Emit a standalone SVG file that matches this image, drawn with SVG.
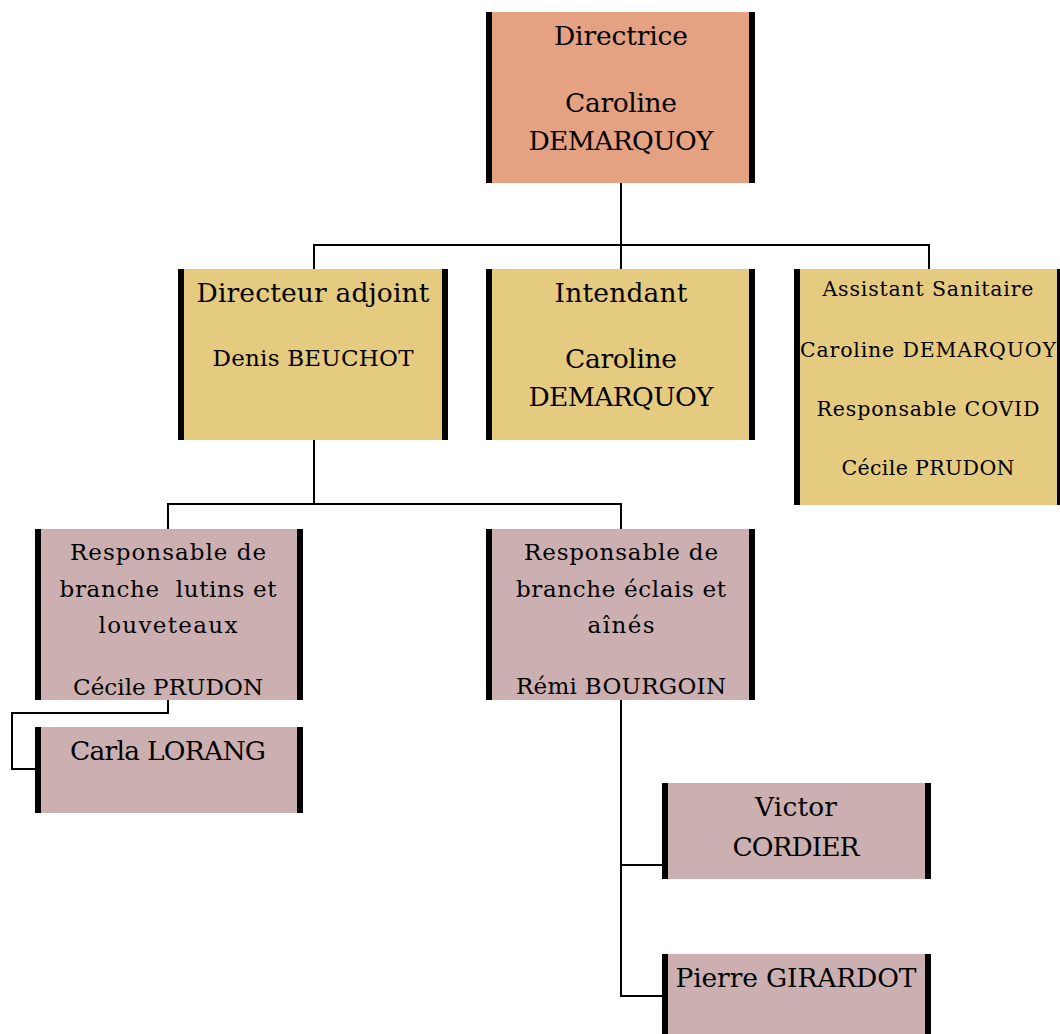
<svg xmlns="http://www.w3.org/2000/svg" width="1060" height="1034" viewBox="0 0 1060 1034">
<style>
.t{font-family:"DejaVu Serif","Liberation Serif",serif;fill:#000;text-anchor:middle}
.f30{font-size:26.5px}.f26{font-size:23px}.f23{font-size:20.5px}
.bar{fill:#000}
.c{fill:none;stroke:#000;stroke-width:2}
.o{fill:#E5A282}.y{fill:#E5CB80}.p{fill:#CCB0B1}
</style>
<rect width="1060" height="1034" fill="#fff"/>
<g id="connectors">
<path class="c" d="M621 183V245M314 269V245H929V269M621 245V269"/>
<path class="c" d="M314 440V504M168 529V504H621V529"/>
<path class="c" d="M168 700V713H12V769H35"/>
<path class="c" d="M621 700V996H662M621 865H662"/>
</g>
<g id="n-directrice">
<rect class="o" x="486" y="12" width="269" height="171"/>
<rect class="bar" x="486" y="12" width="6" height="171"/><rect class="bar" x="749" y="12" width="6" height="171"/>
<text class="t f30" x="621" y="45" textLength="134">Directrice</text>
<text class="t f30" x="621" y="112" textLength="112">Caroline</text>
<text class="t f30" x="621" y="150" textLength="185">DEMARQUOY</text>
</g>
<g id="n-adjoint">
<rect class="y" x="178" y="269" width="270" height="171"/>
<rect class="bar" x="178" y="269" width="6" height="171"/><rect class="bar" x="442" y="269" width="6" height="171"/>
<text class="t f30" x="313" y="302" textLength="233">Directeur adjoint</text>
<text class="t f26" x="313" y="366" textLength="201">Denis BEUCHOT</text>
</g>
<g id="n-intendant">
<rect class="y" x="486" y="269" width="269" height="171"/>
<rect class="bar" x="486" y="269" width="6" height="171"/><rect class="bar" x="749" y="269" width="6" height="171"/>
<text class="t f30" x="621" y="302" textLength="133">Intendant</text>
<text class="t f30" x="621" y="368" textLength="112">Caroline</text>
<text class="t f30" x="621" y="406" textLength="185">DEMARQUOY</text>
</g>
<g id="n-sanitaire">
<rect class="y" x="794" y="269" width="266" height="236"/>
<rect class="bar" x="794" y="269" width="6" height="236"/><rect class="bar" x="1057" y="269" width="3" height="236"/>
<text class="t f23" x="928" y="296" textLength="211">Assistant Sanitaire</text>
<text class="t f23" x="928" y="357" textLength="256">Caroline DEMARQUOY</text>
<text class="t f23" x="928" y="416" textLength="223">Responsable COVID</text>
<text class="t f23" x="928" y="475" textLength="173">Cécile PRUDON</text>
</g>
<g id="n-lutins">
<rect class="p" x="35" y="529" width="268" height="171"/>
<rect class="bar" x="35" y="529" width="6" height="171"/><rect class="bar" x="297" y="529" width="6" height="171"/>
<text class="t f26" x="168" y="560" textLength="196">Responsable de</text>
<text class="t f26" x="168" y="597" textLength="217" xml:space="preserve">branche  lutins et</text>
<text class="t f26" x="168" y="633" textLength="139">louveteaux</text>
<text class="t f26" x="168" y="695" textLength="190">Cécile PRUDON</text>
</g>
<g id="n-eclais">
<rect class="p" x="486" y="529" width="269" height="171"/>
<rect class="bar" x="486" y="529" width="6" height="171"/><rect class="bar" x="749" y="529" width="6" height="171"/>
<text class="t f26" x="621" y="560" textLength="194">Responsable de</text>
<text class="t f26" x="621" y="597" textLength="210">branche éclais et</text>
<text class="t f26" x="621" y="633" textLength="67">aînés</text>
<text class="t f26" x="621" y="694" textLength="210">Rémi BOURGOIN</text>
</g>
<g id="n-carla">
<rect class="p" x="35" y="727" width="268" height="86"/>
<rect class="bar" x="35" y="727" width="6" height="86"/><rect class="bar" x="297" y="727" width="6" height="86"/>
<text class="t f30" x="168" y="760" textLength="196">Carla LORANG</text>
</g>
<g id="n-victor">
<rect class="p" x="662" y="783" width="269" height="96"/>
<rect class="bar" x="662" y="783" width="6" height="96"/><rect class="bar" x="925" y="783" width="6" height="96"/>
<text class="t f30" x="796" y="816" textLength="82">Victor</text>
<text class="t f30" x="796" y="856" textLength="127">CORDIER</text>
</g>
<g id="n-pierre">
<rect class="p" x="662" y="954" width="269" height="90"/>
<rect class="bar" x="662" y="954" width="6" height="90"/><rect class="bar" x="925" y="954" width="6" height="90"/>
<text class="t f30" x="796" y="987" textLength="241">Pierre GIRARDOT</text>
</g>
</svg>
